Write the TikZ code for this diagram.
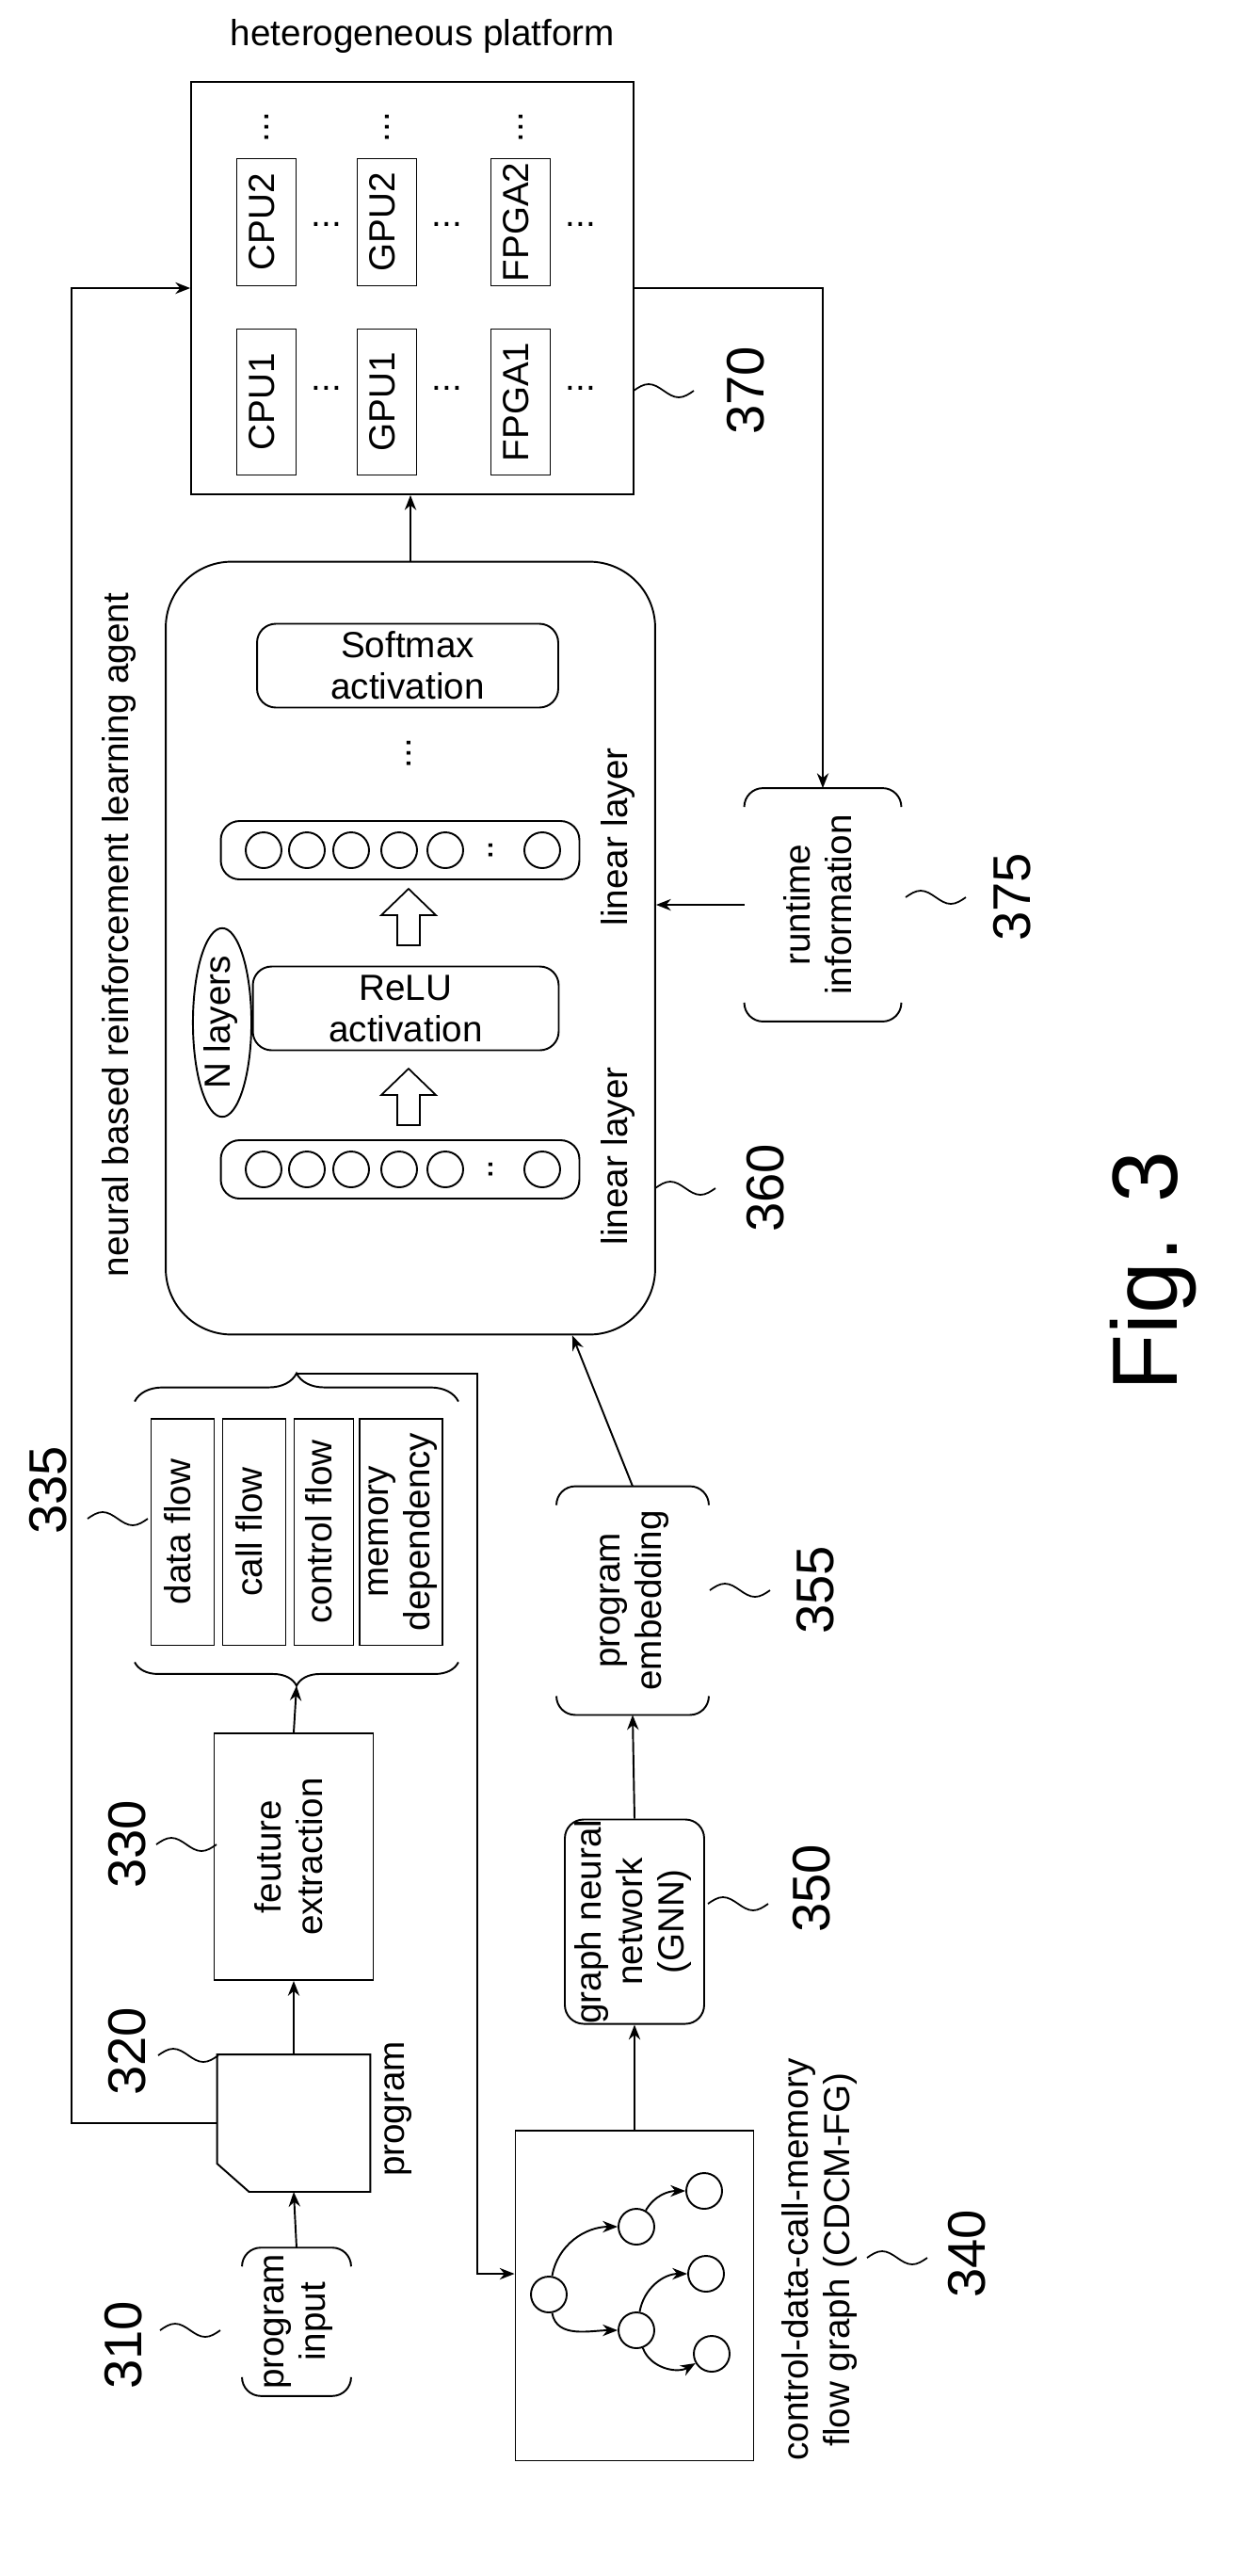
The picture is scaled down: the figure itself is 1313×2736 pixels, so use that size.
\documentclass[tikz,border=0pt]{standalone}
\usepackage{fontspec}
\setmainfont{Liberation Sans}
\usetikzlibrary{arrows.meta,decorations.pathreplacing,shapes.geometric}
\newcommand\rot[1]{\rotatebox{90}{\begin{tabular}{@{}c@{}}#1\end{tabular}}}
\newcommand\sq[2]{\draw[line width=1pt] (#1,#2) sin ++(16,-7) cos ++(16,7) sin ++(16,7) cos ++(16,-7);}
\newcommand\brk[1]{%
\draw ([yshift=-0.4cm]#1.north west) to[out=90,in=180] ([xshift=0.4cm]#1.north west) -- ([xshift=-0.4cm]#1.north east) to[out=0,in=90] ([yshift=-0.4cm]#1.north east);
\draw ([yshift=0.4cm]#1.south west) to[out=-90,in=180] ([xshift=0.4cm]#1.south west) -- ([xshift=-0.4cm]#1.south east) to[out=0,in=-90] ([yshift=0.4cm]#1.south east);}
\tikzset{
  box/.style={draw, inner sep=0pt},
  rbox/.style={draw, inner sep=0pt, rounded corners=0.4cm},
  num/.style={font=\fontsize{32}{36}\selectfont},
  nd/.style={draw, circle, minimum size=0.76cm, inner sep=0pt},
  arr/.style={-{Stealth[length=9pt,width=7pt]}},
  hollow/.style={draw, line width=1pt}
}
\begin{document}
\begin{tikzpicture}[x=0.02cm,y=-0.02cm,line width=1.1pt,font=\fontsize{22}{25}\selectfont]
\useasboundingbox (0,0) rectangle (1313,2736);
% heterogeneous platform
\node at (449,38) {heterogeneous platform};
\node[box, minimum width=9.4cm, minimum height=8.76cm] (plat) at (438,306) {};
\foreach \x/\n in {283/CPU, 411/GPU, 553/FPGA} {
  \node[box, minimum width=1.26cm, minimum height=2.7cm] (\n2) at (\x,236) {\rot{\n2}};
  \node[box, minimum width=1.26cm, minimum height=3.1cm] (\n1) at (\x,427) {\rot{\n1}};
  \node[rotate=90] at (\x,135) {...};
  \node at (\x+64,238) {...};
  \node at (\x+64,412) {...};
}
% agent
\node[draw, rounded corners=1.4cm, minimum width=10.4cm, minimum height=16.42cm] (agent) at (436,1007) {};
\node[rotate=90] at (127,993) {neural based reinforcement learning agent};
\node[rbox, minimum width=6.4cm, minimum height=1.78cm, align=center] (soft) at (433,707) {Softmax\\activation};
\node[rotate=90] at (434,800) {...};
\node[rbox, minimum width=7.62cm, minimum height=1.24cm] (lin2) at (425,903) {};
\node[rbox, minimum width=6.5cm, minimum height=1.78cm, align=center] (relu) at (431,1071) {ReLU\\activation};
\node[rbox, minimum width=7.62cm, minimum height=1.24cm] (lin1) at (425,1242) {};
\foreach \l in {lin1,lin2} {
  \foreach \dx in {-145,-99,-52,-1,48,151}
    \node[nd] at ([xshift=\dx*0.02cm]\l.center) {};
  \node[rotate=90] at ([xshift=1.92cm]\l.center) {..};
}
\node[rotate=90] at (656,889) {linear layer};
\node[rotate=90] at (656,1228) {linear layer};
\node[draw, ellipse, minimum width=0.7cm, minimum height=3.64cm, inner sep=0pt] (nl) at (236,1086) {\rot{N layers}};
\foreach \y in {944,1135} {
  \draw[hollow] (422,\y+60) -- (422,\y+28) -- (405,\y+28) -- (434,\y) -- (463,\y+28) -- (446,\y+28) -- (446,\y+60) -- cycle;
}
% runtime information
\node[minimum width=3.3cm, minimum height=4.92cm] (rt) at (874,961) {\rot{runtime\\information}};
\brk{rt}
\draw[arr] (plat.east) -| (rt.north);
\draw[arr] (rt.west) -- (rt.west -| agent.east);
\draw[arr] (agent.north) -- (agent.north |- plat.south);
% program side
\node[minimum width=2.28cm, minimum height=3.04cm] (pin) at (315,2466) {\rot{program\\input}};
\brk{pin}
\node[minimum width=3.22cm, minimum height=2.88cm] (prog) at (312,2255) {};
\draw (prog.north west) -- (prog.north east) -- (prog.south east) -- ([xshift=0.68cm]prog.south west) -- ([yshift=0.6cm]prog.south west) -- cycle;
\node[rotate=90] at (423,2240) {program};
\node[box, minimum width=3.38cm, minimum height=5.24cm] (fe) at (312,1972) {\rot{feuture\\extraction}};
\node[box, minimum width=1.34cm, minimum height=4.82cm] (df) at (194,1627) {\rot{data flow}};
\node[box, minimum width=1.34cm, minimum height=4.82cm] (cf) at (270,1627) {\rot{call flow}};
\node[box, minimum width=1.26cm, minimum height=4.82cm] (ctf) at (344,1627) {\rot{control flow}};
\node[box, minimum width=1.7cm, minimum height=4.82cm] (md) at (426,1627) {\rot{memory\\dependency}};
\node[minimum width=6.84cm, minimum height=5.5cm] (feat) at (315,1627) {};
\draw[decorate, decoration={brace, amplitude=0.6cm}] (feat.north west) -- (feat.north east);
\draw[decorate, decoration={brace, amplitude=0.5cm}] (feat.south east) -- (feat.south west);
\coordinate (ftip) at ([yshift=0.6cm]feat.north);
\coordinate (cdx) at (507,0);
\coordinate (loopx) at (76,0);
% CDCM-FG
\node[box, minimum width=5.06cm, minimum height=7.02cm] (cdcm) at (674,2438) {};
\node[nd] (c1) at (583,2437) {};
\node[nd] (c2) at (676,2365) {};
\node[nd] (c3) at (748,2327) {};
\node[nd] (c4) at (750,2415) {};
\node[nd] (c5) at (676,2475) {};
\node[nd] (c6) at (756,2500) {};
\draw[arr] (c1) to[out=80,in=180] (c2);
\draw[arr] (c2) to[out=60,in=180] (c3);
\draw[arr] (c1) to[out=-80,in=180] (c5);
\draw[arr] (c5) to[out=80,in=180] (c4);
\draw[arr] (c5) to[out=-70,in=-150] (c6);
\node[align=left] at (872,2400) {\rot{control-data-call-memory\\flow graph (CDCM-FG)}};
\node[rbox, minimum width=2.96cm, minimum height=4.14cm] (gnn) at (674,2041) {\rot{graph neural\\network\\(GNN)}};
\node[minimum width=3.2cm, minimum height=4.82cm] (emb) at (672,1700) {\rot{program\\embedding}};
\brk{emb}
% connectors
\draw[arr] (pin.north) -- (prog.south);
\draw[arr] (prog.north) -- (fe.south);
\draw[arr] (fe.north) -- ([yshift=-0.5cm]feat.south);
\draw[arr] (ftip) -- (ftip -| cdx) -- ([yshift=0.46cm]cdx |- cdcm.west) -- ([yshift=0.46cm]cdcm.west);
\draw[arr] (prog.west) -- (prog.west -| loopx) |- (plat.west);
\draw[arr] (cdcm.north) -- (gnn.south);
\draw[arr] (gnn.north) -- (emb.south);
\draw[arr] (emb.north) -- ([xshift=3.44cm]agent.south);
% reference numerals
\node[num, rotate=90] at (131,2491) {310}; \sq{170}{2475}
\node[num, rotate=90] at (135,2179) {320}; \sq{168}{2183}
\node[num, rotate=90] at (135,1959) {330}; \sq{166}{1959}
\node[num, rotate=90] at (51,1583) {335}; \sq{93}{1613}
\node[num, rotate=90] at (1027,2394) {340}; \sq{921}{2398}
\node[num, rotate=90] at (862,2006) {350}; \sq{752}{2022}
\node[num, rotate=90] at (866,1689) {355}; \sq{754}{1689}
\node[num, rotate=90] at (813,1262) {360}; \sq{696}{1262}
\node[num, rotate=90] at (792,415) {370}; \sq{673}{415}
\node[num, rotate=90] at (1075,953) {375}; \sq{962}{953}
\node[rotate=90, font=\fontsize{56}{60}\selectfont] at (1225,1350) {Fig. 3};
\end{tikzpicture}
\end{document}
